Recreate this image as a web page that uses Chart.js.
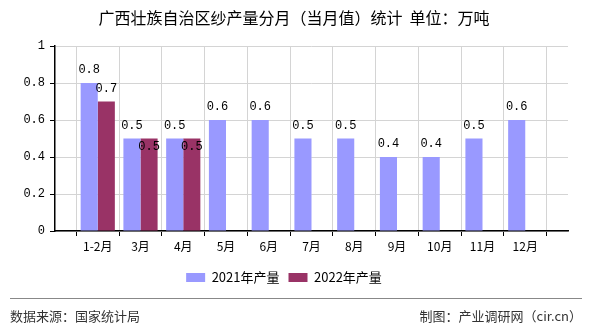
<!DOCTYPE html>
<html>
<head>
<meta charset="utf-8">
<script src="https://cdn.jsdelivr.net/npm/chart.js@4"></script>
<style>
  html, body { margin: 0; padding: 0; background: #fff; }
  #wrap { width: 590px; height: 330px; position: relative; }
</style>
</head>
<body>
<div id="wrap"><canvas id="chart"></canvas></div>
<script>
// empty slot at each end, the reference axis runs one category past the data
const months = ['', '1-2月', '3月', '4月', '5月', '6月', '7月', '8月', '9月', '10月', '11月', '12月', ''];
const output2021 = [null, 0.8, 0.5, 0.5, 0.6, 0.6, 0.5, 0.5, 0.4, 0.4, 0.5, 0.6, null];
const output2022 = [null, 0.7, 0.5, 0.5, null, null, null, null, null, null, null, null, null];
const yTicks = [0, 0.2, 0.4, 0.6, 0.8, 1];

const titleText = '广西壮族自治区纱产量分月（当月值）统计  单位：万吨';
const sourceText = '数据来源：国家统计局';
const makerText = '制图：产业调研网（cir.cn）';

const cjk = '"Noto Sans CJK SC", "Noto Sans", sans-serif';
const mono = '"Liberation Mono", "DejaVu Sans Mono", monospace';

const valueLabels = {
    id: 'valueLabels',
    afterDatasetsDraw(chart) {
        const ctx = chart.ctx;
        ctx.save();
        ctx.font = '12px ' + mono;
        ctx.fillStyle = '#000';
        ctx.textAlign = 'center';
        ctx.textBaseline = 'middle';
        chart.data.datasets.forEach((ds, di) => {
            chart.getDatasetMeta(di).data.forEach((bar, i) => {
                const v = ds.data[i];
                if (v === null) return;
                let y = bar.y - 13;
                // second series label drops inside the bar when it would collide
                if (di === 1 && output2021[i] === v) y = bar.y + 8;
                ctx.fillText(v.toFixed(1), bar.x, y);
            });
        });
        ctx.restore();
    }
};

const frame = {
    id: 'frame',
    afterDraw(chart) {
        const ctx = chart.ctx;
        ctx.save();
        ctx.fillStyle = '#000';
        ctx.font = '16px ' + cjk;
        ctx.textAlign = 'center';
        ctx.textBaseline = 'middle';
        ctx.fillText(titleText, 294, 18);

        ctx.strokeStyle = '#888';
        ctx.lineWidth = 1;
        ctx.beginPath();
        ctx.moveTo(10, 298.5);
        ctx.lineTo(582, 298.5);
        ctx.stroke();

        ctx.fillStyle = '#333';
        ctx.font = '13px ' + cjk;
        ctx.textAlign = 'left';
        ctx.fillText(sourceText, 10, 316);
        ctx.textAlign = 'right';
        ctx.fillText(makerText, 582, 316);
        ctx.restore();
    }
};

new Chart(document.getElementById('chart'), {
    type: 'bar',
    data: {
        labels: months,
        datasets: [{
            label: '2021年产量',
            data: output2021,
            backgroundColor: '#9999ff',
            barPercentage: 1,
            categoryPercentage: 0.8
        }, {
            label: '2022年产量',
            data: output2022,
            backgroundColor: '#993366',
            barPercentage: 1,
            categoryPercentage: 0.8
        }]
    },
    options: {
        responsive: true,
        maintainAspectRatio: false,
        animation: false,
        layout: {
            padding: { top: 46, right: 22, bottom: 36, left: 0 }
        },
        scales: {
            x: {
                offset: false,
                grid: {
                    color: '#d4d4d4',
                    tickColor: '#000',
                    tickLength: 5
                },
                border: { color: '#000', width: 1.5 },
                ticks: {
                    color: '#000',
                    font: { family: cjk, size: 12 },
                    maxRotation: 0,
                    autoSkip: false,
                    padding: 3
                },
                afterFit: (scale) => { scale.height = 31; }
            },
            y: {
                min: 0,
                max: 1,
                afterBuildTicks: (scale) => { scale.ticks = yTicks.map(v => ({ value: v })); },
                grid: {
                    color: '#d4d4d4',
                    tickColor: '#000',
                    tickLength: 5
                },
                border: { color: '#000', width: 1.5 },
                ticks: {
                    color: '#000',
                    font: { family: mono, size: 12 },
                    padding: 5,
                    callback: (v) => String(v)
                },
                afterFit: (scale) => { scale.width = 55; }
            }
        },
        plugins: {
            title: { display: false },
            tooltip: { enabled: false },
            legend: {
                position: 'bottom',
                labels: {
                    boxWidth: 19,
                    boxHeight: 9,
                    color: '#000',
                    font: { family: cjk, size: 13 },
                    padding: 9
                }
            }
        }
    },
    plugins: [valueLabels, frame]
});
</script>
</body>
</html>
